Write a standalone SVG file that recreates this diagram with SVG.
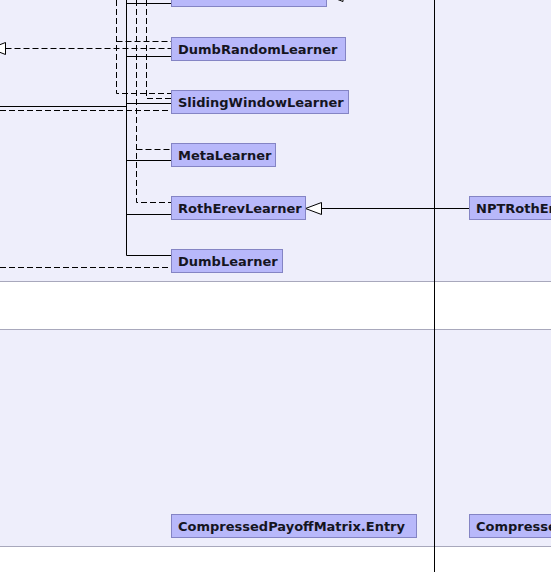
<svg xmlns="http://www.w3.org/2000/svg" width="551" height="572" viewBox="0 0 551 572">
<style>
.bg{fill:#EEEEFB}
.sep{stroke:#A8A8BC;stroke-width:1;fill:none}
.box rect{fill:#B8B8FA;stroke:#8484C4;stroke-width:1}
.box text{font-family:"DejaVu Sans",sans-serif;font-weight:bold;font-size:13px;fill:#15151f}
.s{stroke:#000;stroke-width:1;fill:none}
.d{stroke:#000;stroke-width:1;fill:none;stroke-dasharray:6,3}
.h{fill:#fff;stroke:#000;stroke-width:1}
</style>
<rect x="0" y="0" width="551" height="572" fill="#fff"/>
<rect class="bg" x="0" y="0" width="551" height="281"/>
<rect class="bg" x="0" y="330" width="551" height="216"/>
<line class="sep" x1="0" y1="281.5" x2="551" y2="281.5"/>
<line class="sep" x1="0" y1="329.5" x2="551" y2="329.5"/>
<line class="sep" x1="0" y1="546.5" x2="551" y2="546.5"/>
<g id="connectors">
<line class="s" x1="434.5" y1="0" x2="434.5" y2="572"/>
<path class="d" d="M116.5 0V93.5H171"/>
<path class="d" d="M116.5 41.5H171"/>
<path class="d" d="M146.5 0V98.5H171"/>
<path class="d" d="M136.5 0V202.5H171"/>
<path class="d" d="M136.5 149.5H171"/>
<path class="s" d="M126.5 0V255.5H171"/>
<path class="s" d="M126.5 3.5H171M126.5 56.5H171M126.5 103.5H171M126.5 160.5H171M126.5 214.5H171"/>
<path class="s" d="M0 106.5H126.5"/>
<path class="d" d="M0 110.5H171"/>
<path class="d" d="M0 267.5H171"/>
<path class="d" d="M5.5 48.5H171"/>
<polygon class="h" points="-10,48.5 5.5,42.5 5.5,54.5"/>
<path class="s" d="M321.5 208.5H469.5"/>
<polygon class="h" points="305.5,208.5 321.5,202.5 321.5,214.5"/>
<polygon class="h" points="327,-4.5 343,-10.5 343,1.5"/>
</g>
<g id="n-top" class="box"><rect x="171.5" y="-16.5" width="155" height="23"/></g>
<g id="n-dumbrandom" class="box"><rect x="171.5" y="37.5" width="174" height="23"/><text x="178" y="53.5">DumbRandomLearner</text></g>
<g id="n-sliding" class="box"><rect x="171.5" y="90.5" width="177" height="23"/><text x="178" y="106.5">SlidingWindowLearner</text></g>
<g id="n-meta" class="box"><rect x="171.5" y="143.5" width="104" height="23"/><text x="178" y="159.5">MetaLearner</text></g>
<g id="n-rotherev" class="box"><rect x="171.5" y="196.5" width="134" height="23"/><text x="178" y="212.5">RothErevLearner</text></g>
<g id="n-dumb" class="box"><rect x="171.5" y="249.5" width="111" height="23"/><text x="178" y="265.5">DumbLearner</text></g>
<g id="n-nptrotherev" class="box"><rect x="469.5" y="196.5" width="160" height="23"/><text x="476" y="212.5">NPTRothErevLearner</text></g>
<g id="n-entry" class="box"><rect x="171.5" y="514.5" width="245" height="23"/><text x="178" y="530.5">CompressedPayoffMatrix.Entry</text></g>
<g id="n-compressed" class="box"><rect x="469.5" y="514.5" width="200" height="23"/><text x="476" y="530.5">CompressedPayoffMatrix</text></g>
</svg>
